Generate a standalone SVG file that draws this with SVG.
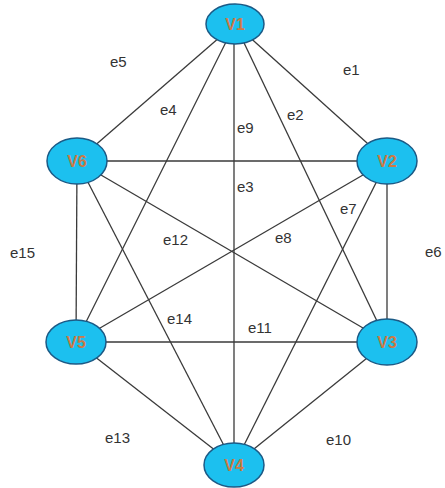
<svg xmlns="http://www.w3.org/2000/svg" width="445" height="488" viewBox="0 0 445 488">
<style>
.e{stroke:#3a3a3a;stroke-width:1.3;fill:none}
.n{fill:#1cc0ef;stroke:#1b5a86;stroke-width:1.5}
.nl{font-family:"Liberation Sans",Arial,sans-serif;font-size:16px;font-weight:bold;fill:#cc7a45;text-anchor:middle}
.el{font-family:"Liberation Sans",Arial,sans-serif;font-size:15px;fill:#333}
</style>
<rect width="445" height="488" fill="#fff"/>
<g id="connectors">
<line class="e" x1="235" y1="24" x2="387" y2="161"/>
<line class="e" x1="235" y1="24" x2="387" y2="342"/>
<line class="e" x1="234" y1="24" x2="234" y2="465"/>
<line class="e" x1="235" y1="24" x2="76" y2="342"/>
<line class="e" x1="235" y1="24" x2="77" y2="161"/>
<line class="e" x1="387" y1="161" x2="387" y2="342"/>
<line class="e" x1="387" y1="161" x2="234" y2="465"/>
<line class="e" x1="387" y1="161" x2="76" y2="342"/>
<line class="e" x1="387" y1="161" x2="77" y2="161"/>
<line class="e" x1="387" y1="342" x2="234" y2="465"/>
<line class="e" x1="387" y1="342" x2="76" y2="342"/>
<line class="e" x1="387" y1="342" x2="77" y2="161"/>
<line class="e" x1="76" y1="342" x2="234" y2="465"/>
<line class="e" x1="77" y1="161" x2="234" y2="465"/>
<line class="e" x1="77" y1="161" x2="76" y2="342"/>
</g>
<g id="edge-labels">
<text class="el" x="110" y="67">e5</text>
<text class="el" x="343" y="75">e1</text>
<text class="el" x="160" y="115">e4</text>
<text class="el" x="287" y="120">e2</text>
<text class="el" x="237" y="133">e9</text>
<text class="el" x="237" y="192">e3</text>
<text class="el" x="340" y="214">e7</text>
<text class="el" x="163" y="245">e12</text>
<text class="el" x="275" y="243">e8</text>
<text class="el" x="10" y="258">e15</text>
<text class="el" x="425" y="257">e6</text>
<text class="el" x="167" y="324">e14</text>
<text class="el" x="248" y="333">e11</text>
<text class="el" x="105" y="443">e13</text>
<text class="el" x="326" y="445">e10</text>
</g>
<g id="V1"><ellipse class="n" cx="235" cy="24" rx="29" ry="20"/><text class="nl" x="235" y="30">V1</text></g>
<g id="V6"><ellipse class="n" cx="77" cy="161" rx="30" ry="23"/><text class="nl" x="77" y="167">V6</text></g>
<g id="V2"><ellipse class="n" cx="387" cy="161" rx="30" ry="23"/><text class="nl" x="387" y="167">V2</text></g>
<g id="V5"><ellipse class="n" cx="76" cy="342" rx="30" ry="22"/><text class="nl" x="76" y="348">V5</text></g>
<g id="V3"><ellipse class="n" cx="387" cy="342" rx="30" ry="23"/><text class="nl" x="387" y="348">V3</text></g>
<g id="V4"><ellipse class="n" cx="234" cy="465" rx="30" ry="22"/><text class="nl" x="234" y="471">V4</text></g>
</svg>
